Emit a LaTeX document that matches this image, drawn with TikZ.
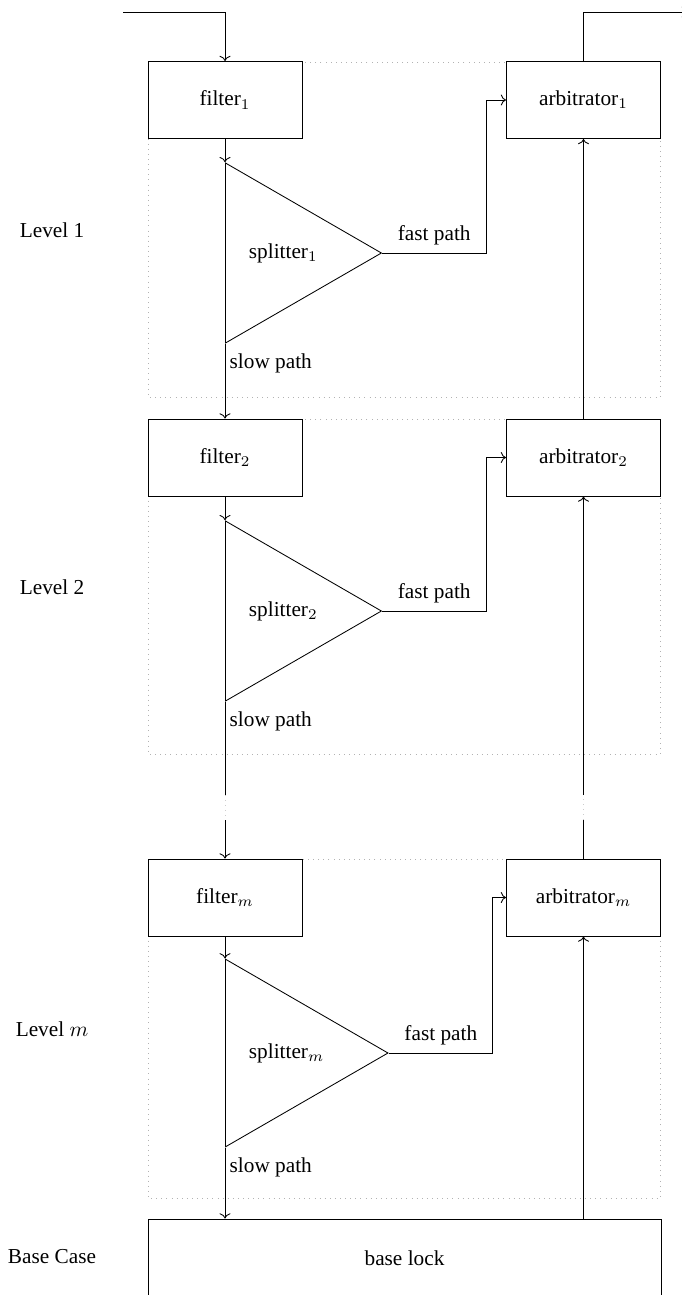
\documentclass[tikz,border=0pt]{standalone}
\usepackage{fontspec}
\setmainfont{Liberation Serif}
\usepackage{tikz}
\usetikzlibrary{positioning,shapes.geometric,arrows.meta}

\begin{document}
\begin{tikzpicture}[x=0.47pt,y=-0.47pt,
    font=\fontsize{10}{12}\selectfont,
    block/.style={rectangle,draw,fill=white,minimum width=72.4pt,minimum height=36.2pt,inner sep=0pt},
    splitbox/.style={isosceles triangle,isosceles triangle apex angle=60,draw,minimum height=73.3pt,inner sep=0pt},
    slowlabel/.style={below right,inner sep=2pt,yshift=-2.5pt},
    levelbox/.style={draw=gray!60,dotted},
    gapline/.style={draw=gray!40,dotted}]
    
    \useasboundingbox (0,0) rectangle (681,1295);
    
    \draw[levelbox] (148,62) rectangle (660.5,397);
    \draw[levelbox] (148,419) rectangle (660.5,754);
    \draw[levelbox] (148,859) rectangle (660.5,1198);
    
    \node[block] (F1) at (225,100) {filter$_1$};
    \node[block] (A1) at (583.5,100) {arbitrator$_1$};
    \node[splitbox,anchor=lower side] (S1) at (225,253) {splitter$_1$};
    
    \node[block] (F2) at (225,457.5) {filter$_2$};
    \node[block] (A2) at (583.5,457.5) {arbitrator$_2$};
    \node[splitbox,anchor=lower side] (S2) at (225,611) {splitter$_2$};
    
    \node[block] (Fm) at (225,897.5) {filter$_m$};
    \node[block] (Am) at (583.5,897.5) {arbitrator$_m$};
    \node[splitbox,anchor=lower side,minimum height=76.4pt] (Sm) at (225,1053) {splitter$_m$};
    
    \node[block,minimum width=241.1pt,minimum height=36.7pt] (B) at (404.5,1258) {base lock};
    
    \node (L1) at (52,230) {Level 1};
    \node (L2) at (52,587) {Level 2};
    \node (Lm) at (52,1029) {Level $m$};
    \node (LB) at (52,1257) {Base Case};
    
    \coordinate (in) at (123,12);
    \coordinate (out) at (687,12);
    \coordinate (gl1) at (225,795);
    \coordinate (gl2) at (225,820);
    \coordinate (gr1) at (583.5,795);
    \coordinate (gr2) at (583.5,820);
    
    \draw[->] (in) -| (F1.north);
    \draw[->] (A1.north) |- (out);
    
    \draw[->] (F1.south) -- (S1.left corner);
    \draw[->] (S1.apex) -- node[above] {fast path} ++(104,0) |- (A1.west);
    \draw[->] (S1.right corner) node[slowlabel] {slow path} -- (F2.north);
    \draw[->] (A2.north) -- (A1.south);
    
    \draw[->] (F2.south) -- (S2.left corner);
    \draw[->] (S2.apex) -- node[above] {fast path} ++(104,0) |- (A2.west);
    \draw (S2.right corner) node[slowlabel] {slow path} -- (gl1);
    \draw[gapline] (gl1) -- (gl2);
    \draw[->] (gl2) -- (Fm.north);
    \draw (Am.north) -- (gr2);
    \draw[gapline] (gr2) -- (gr1);
    \draw[->] (gr1) -- (A2.south);
    
    \draw[->] (Fm.south) -- (Sm.left corner);
    \draw[->] (Sm.apex) -- node[above] {fast path} ++(104,0) |- (Am.west);
    \draw[->] (Sm.right corner) node[slowlabel] {slow path} -- (B.north -| Sm.right corner);
    \draw[->] (B.north -| Am.south) -- (Am.south);
    
\end{tikzpicture}
\end{document}
